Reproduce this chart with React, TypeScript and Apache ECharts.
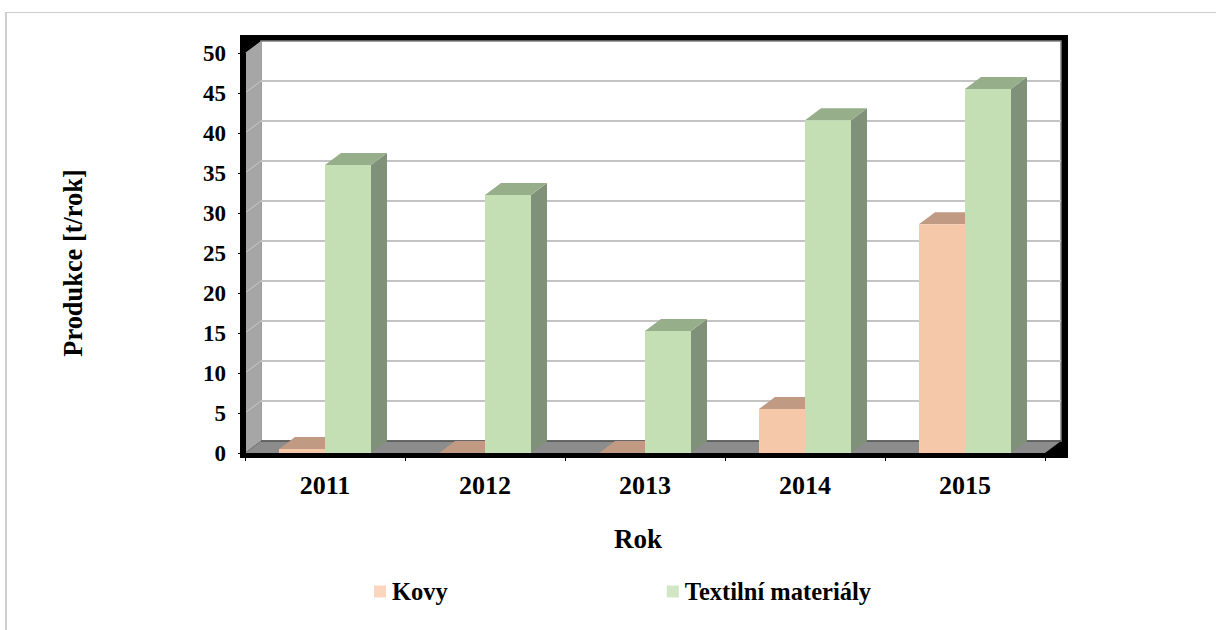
import React, { useEffect, useRef } from "react";
import * as echarts from "echarts";

const years = ["2011", "2012", "2013", "2014", "2015"];
const kovy = [0.5, 0, 0, 5.5, 28.6];
const textil = [36, 32.25, 15.25, 41.6, 45.5];
const ticks = [0, 5, 10, 15, 20, 25, 30, 35, 40, 45, 50];
const FONT = '"Liberation Serif", serif';
const DX = 16;
const DY = -12;

function barItem(front: string, top: string, side: string, sign: number) {
  return (params: any, api: any) => {
    const i = api.value(0);
    const c = api.coord([i, api.value(1)]);
    const b = api.coord([i, 0]);
    const w = api.size([1, 0])[0] * 0.2875;
    const x0 = sign < 0 ? c[0] - w : c[0];
    const x1 = x0 + w;
    const y = c[1];
    const base = b[1];
    return {
      type: "group",
      children: [
        { type: "polygon", shape: { points: [[x1, y], [x1 + DX, y + DY], [x1 + DX, base + DY], [x1, base]] }, style: { fill: side } },
        { type: "polygon", shape: { points: [[x0, y], [x0 + DX, y + DY], [x1 + DX, y + DY], [x1, y]] }, style: { fill: top } },
        { type: "rect", shape: { x: x0, y, width: w, height: base - y }, style: { fill: front } },
      ],
    };
  };
}

function wallsItem(params: any, api: any) {
  const l = api.coord([0, 0]);
  const t = api.coord([0, 50]);
  const band = api.size([1, 0])[0];
  const x0 = l[0] - band / 2;
  const x1 = x0 + band * years.length;
  const y0 = l[1];
  const y1 = t[1];
  const children: any[] = [
    { type: "rect", shape: { x: x0 - 5, y: y1 - 18, width: x1 - x0 + 28, height: y0 - y1 + 23 }, style: { fill: "#000" } },
    { type: "rect", shape: { x: x0 + DX, y: y1 + DY, width: x1 - x0, height: y0 - y1 }, style: { fill: "#fff", stroke: "#808080", lineWidth: 1.5 } },
    {
      type: "polygon",
      shape: { points: [[x0, y1], [x0 + DX, y1 + DY], [x0 + DX, y0 + DY], [x0, y0]] },
      style: { fill: "#a6a6a6" },
    },
    { type: "polygon", shape: { points: [[x0, y0], [x0 + DX, y0 + DY], [x1 + DX, y0 + DY], [x1, y0]] }, style: { fill: "#8c8c8c" } },
    { type: "line", shape: { x1: x0 + DX, y1: y0 + DY, x2: x1 + DX, y2: y0 + DY }, style: { stroke: "#555", lineWidth: 1.5 } },
  ];
  ticks.slice(1, -1).forEach((v) => {
    const y = api.coord([0, v])[1];
    children.push({ type: "line", shape: { x1: x0 + DX, y1: y + DY, x2: x1 + DX, y2: y + DY }, style: { stroke: "#c4c4c4", lineWidth: 2 } });
    children.push({ type: "line", shape: { x1: x0, y1: y, x2: x0 + DX, y2: y + DY }, style: { stroke: "#c8c8c8", lineWidth: 1 } });
  });
  return { type: "group", children };
}

export default function App() {
  const ref = useRef<HTMLDivElement>(null);
  useEffect(() => {
    document.body.style.margin = "0";
    const chart = echarts.init(ref.current!, undefined, { renderer: "svg" });
    const text = { fontFamily: FONT, fontWeight: "bold" as const, color: "#000" };
    chart.setOption({
      animation: false,
      backgroundColor: "#fff",
      grid: { left: 245, right: 171, top: 53, height: 400 },
      legend: {
        data: [
          { name: "Kovy", icon: "rect", itemStyle: { color: "#fcd5bf" } },
          { name: "Textilní materiály", icon: "rect", itemStyle: { color: "#d0e6c4" } },
        ],
        left: 369,
        top: 574,
        itemWidth: 12,
        itemHeight: 12,
        itemGap: 219,
        textStyle: { ...text, fontSize: 24.5, padding: [0, 0, 0, 1] },
      },
      xAxis: {
        type: "category",
        data: years,
        name: "Rok",
        nameLocation: "middle",
        nameGap: 72,
        nameTextStyle: { ...text, fontSize: 27, padding: [0, 14, 0, 0] },
        axisLine: { show: true, lineStyle: { color: "#000", width: 1 } },
        axisTick: { show: true, alignWithLabel: false, length: 8, lineStyle: { color: "#000", width: 1 } },
        axisLabel: { ...text, fontSize: 26, margin: 19 },
      },
      yAxis: {
        type: "value",
        min: 0,
        max: 50,
        interval: 5,
        name: "Produkce [t/rok]",
        nameLocation: "middle",
        nameGap: 159,
        nameTextStyle: { ...text, fontSize: 26.4, padding: [0, 20, 0, 0] },
        axisLine: { show: true, lineStyle: { color: "#000", width: 1 } },
        axisTick: { show: true, length: 7, lineStyle: { color: "#000", width: 1 } },
        axisLabel: { ...text, fontSize: 23, margin: 19 },
        splitLine: { show: false },
      },
      graphic: [
        { type: "rect", shape: { x: 5, y: 12, width: 1211, height: 1 }, style: { fill: "#cfcfcf" }, silent: true },
        { type: "rect", shape: { x: 5, y: 12, width: 2, height: 618 }, style: { fill: "#cfcfcf" }, silent: true },
      ],
      series: [
        { type: "custom", name: "walls", data: [[0, 0]], renderItem: wallsItem, silent: true, z: 0, encode: { x: 0, y: 1 } },
        { type: "custom", name: "Kovy", data: kovy.map((v, i) => [i, v]), renderItem: barItem("#f6c8aa", "#c09a82", "#bd9a80", -1), z: 1, encode: { x: 0, y: 1 } },
        { type: "custom", name: "Textilní materiály", data: textil.map((v, i) => [i, v]), renderItem: barItem("#c5dfb4", "#97ae8b", "#80917a", 1), z: 2, encode: { x: 0, y: 1 } },
      ],
    });
    return () => chart.dispose();
  }, []);
  return <div ref={ref} style={{ width: 1216, height: 630 }} />;
}
